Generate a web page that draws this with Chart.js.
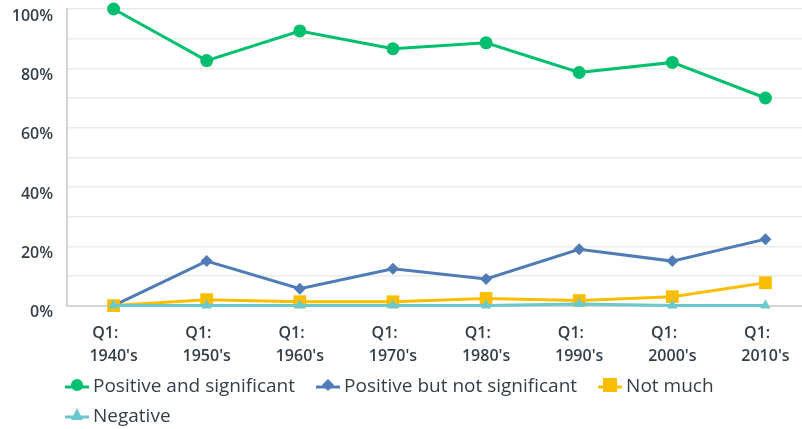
<!DOCTYPE html>
<html>
<head>
<meta charset="utf-8">
<script src="https://cdn.jsdelivr.net/npm/chart.js@4.4.0/dist/chart.umd.min.js"></script>
<style>
  body { margin: 0; background: #fff; font-family: "Open Sans", sans-serif; color: #333e48; }
  #wrap { position: relative; width: 802px; height: 429px; overflow: hidden; }
  #box { position: absolute; left: 0; top: 0; width: 821px; height: 376px; }
  #legend { position: absolute; left: 65px; top: 371px; width: 730px; font-size: 19px; font-weight: 500; }
  .item { display: inline-flex; align-items: center; margin-right: 21px; height: 28px; vertical-align: top; }
  .item svg { margin-right: 4px; }
  .row { height: 30px; }
</style>
</head>
<body>
<div id="wrap">
  <div id="box"><canvas id="chart"></canvas></div>
  <div id="legend"></div>
</div>
<script>
// Chart data
const categories = [['Q1:', "1940's"], ['Q1:', "1950's"], ['Q1:', "1960's"], ['Q1:', "1970's"],
  ['Q1:', "1980's"], ['Q1:', "1990's"], ['Q1:', "2000's"], ['Q1:', "2010's"]];
const positiveSignificant = [100, 82.6, 92.6, 86.6, 88.6, 78.6, 82, 70];
const positiveNotSignificant = [0, 15, 5.7, 12.4, 9, 19, 15, 22.4];
const notMuch = [0, 2, 1.3, 1.3, 2.4, 1.7, 3, 7.7];
const negative = [0, 0, 0, 0, 0, 0.5, 0, 0];
const yTicks = [0, 20, 40, 60, 80, 100];

const textColor = '#333e48';

function series(label, data, color, style, radius) {
  return {
    label: label,
    data: data,
    borderColor: color,
    backgroundColor: color,
    borderWidth: 3,
    pointStyle: style,
    pointRadius: radius,
    pointHoverRadius: radius,
    pointBorderWidth: 0,
    tension: 0,
    clip: false
  };
}

const datasets = [
  series('Negative', negative, '#6bc8cd', 'triangle', 6),
  series('Not much', notMuch, '#f9be00', 'rect', 9),
  series('Positive but not significant', positiveNotSignificant, '#507cb6', 'rectRot', 6),
  series('Positive and significant', positiveSignificant, '#00bf6f', 'circle', 6.5)
];

const tickFont = { family: 'Open Sans', size: 16, weight: 600, lineHeight: 1.45 };

const ctx = document.getElementById('chart').getContext('2d');
const chart = new Chart(ctx, {
  type: 'line',
  data: { labels: categories, datasets: datasets },
  options: {
    responsive: true,
    maintainAspectRatio: false,
    animation: false,
    layout: { padding: { top: 6, left: 11, right: 1, bottom: 0 } },
    plugins: { legend: { display: false }, tooltip: { enabled: false } },
    scales: {
      x: {
        type: 'category',
        offset: true,
        grid: { display: false },
        border: { color: '#d4d4d4', width: 2 },
        ticks: {
          color: textColor, font: tickFont, padding: 8, maxRotation: 0,
          // pad the first line so both lines look left aligned
          callback: function (v) {
            const l = this.getLabelForValue(v);
            return [l[0] + '\u00a0'.repeat(4), l[1]];
          }
        }
      },
      y: {
        min: 0,
        max: 100,
        afterFit: (s) => { s.width = 56; s.paddingTop = 0; s.paddingBottom = 0; },
        grid: { color: '#ebebeb', drawTicks: false, lineWidth: 1.5 },
        border: { color: '#d4d4d4', width: 2 },
        ticks: {
          stepSize: 10,
          color: textColor,
          font: { family: 'Open Sans', size: 16, weight: 600 },
          padding: 14,
          labelOffset: 7,
          callback: (v) => yTicks.includes(v) ? v + '%' : ''
        }
      }
    }
  }
});

// HTML legend with line + marker swatches
const legendItems = [
  ['Positive and significant', '#00bf6f', 'circle'],
  ['Positive but not significant', '#507cb6', 'diamond'],
  ['Not much', '#f9be00', 'square'],
  ['Negative', '#6bc8cd', 'triangle']
];

function marker(shape, color) {
  let m = '';
  if (shape === 'circle') m = `<circle cx="12" cy="10" r="6" fill="${color}"/>`;
  if (shape === 'diamond') m = `<polygon points="12,4 18,10 12,16 6,10" fill="${color}"/>`;
  if (shape === 'square') m = `<rect x="5" y="3" width="14" height="14" fill="${color}"/>`;
  if (shape === 'triangle') m = `<polygon points="12,3 18,15 6,15" fill="${color}"/>`;
  return `<svg width="24" height="20"><line x1="0" y1="12" x2="24" y2="12" stroke="${color}" stroke-width="3"/>${m}</svg>`;
}

const legend = document.getElementById('legend');
const rows = [legendItems.slice(0, 3), legendItems.slice(3)];
rows.forEach(r => {
  const row = document.createElement('div');
  row.className = 'row';
  r.forEach(it => {
    const span = document.createElement('span');
    span.className = 'item';
    span.innerHTML = marker(it[2], it[1]) + '<span>' + it[0] + '</span>';
    row.appendChild(span);
  });
  legend.appendChild(row);
});
</script>
</body>
</html>
